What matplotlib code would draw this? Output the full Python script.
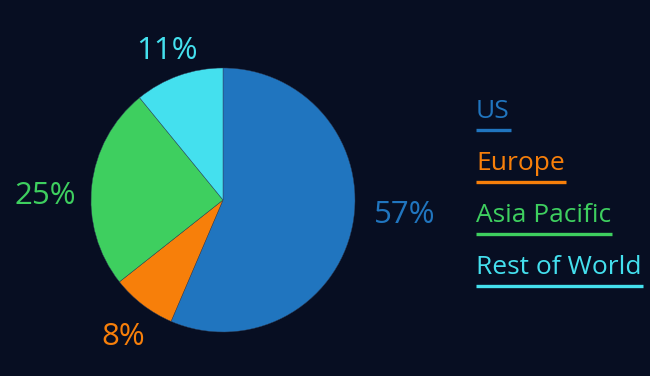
import matplotlib
matplotlib.use("Agg")
import matplotlib.pyplot as plt
import numpy as np

# data
regions = ["US", "Europe", "Asia Pacific", "Rest of World"]
shares = [57, 8, 25, 11]
colors = ["#2075bf", "#f77f0a", "#3ecf5f", "#44e0ee"]

bg = "#070e22"
plt.rcParams['font.family'] = ['Open Sans', 'DejaVu Sans']

fig = plt.figure(figsize=(6.5, 3.76), dpi=100, facecolor=bg)
ax = fig.add_axes([0, 0, 1, 1])
ax.set_facecolor(bg)

cx, cy, r = 223, 176, 132
wedges, _ = ax.pie(shares, colors=colors, startangle=90, counterclock=False,
                   center=(cx, cy), radius=r, frame=True,
                   wedgeprops=dict(linewidth=0.3, edgecolor="#30405a"))

# percentage labels outside each wedge (small nudges to follow the reference layout)
nudges = [(14, 19), (4, -1), (-7, -15), (2, -13)]
for w, val, col, (nx, ny) in zip(wedges, shares, colors, nudges):
    mid = np.deg2rad((w.theta1 + w.theta2) / 2)
    d = r * 1.30
    ax.text(cx + d * np.cos(mid) + nx, cy + d * np.sin(mid) + ny, f"{val}%",
            color=col, fontsize=22.5, ha="center", va="center")

ax.set_xlim(0, 650)
ax.set_ylim(0, 376)
ax.set_aspect("equal")
ax.axis("off")

# legend: coloured text with an underline of the same width
fig.canvas.draw()
renderer = fig.canvas.get_renderer()
x0 = 476
for i, (name, col) in enumerate(zip(regions, colors)):
    base = 376 - (118.5 + i * 52)
    t = ax.text(x0, base, name, color=col, fontsize=19, ha="left", va="baseline")
    bb = t.get_window_extent(renderer=renderer)
    width = bb.width  # figure pixels == data units here
    ax.plot([x0, x0 + width + 1], [base - 11.5, base - 11.5], color=col, lw=2.4,
            solid_capstyle="butt")

fig.savefig("out.png", dpi=100, facecolor=bg)
